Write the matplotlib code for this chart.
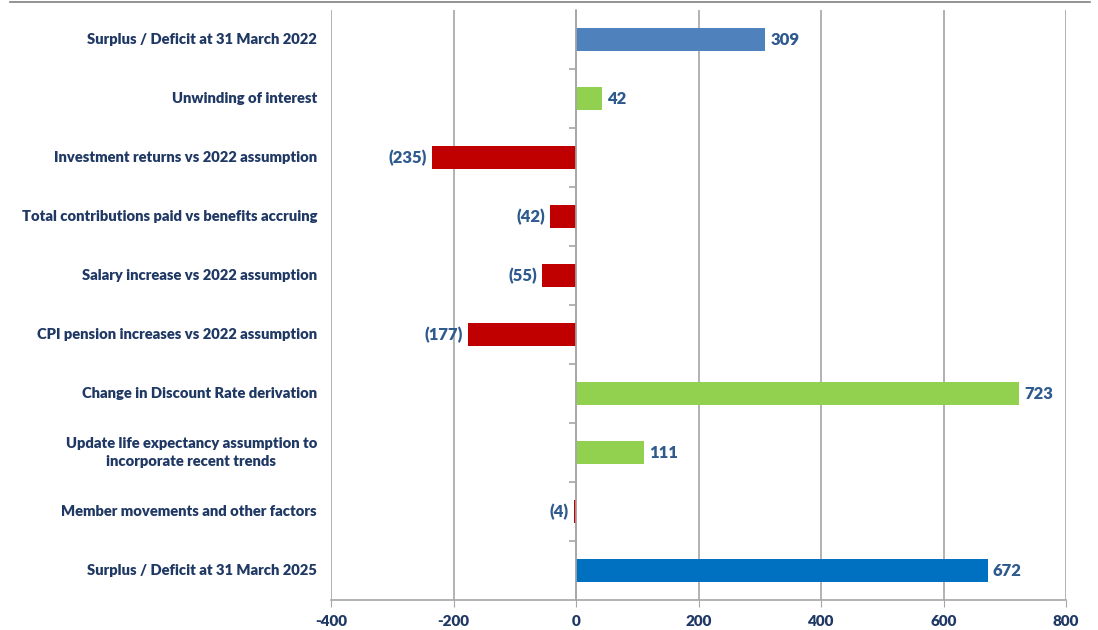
import matplotlib.pyplot as plt
from matplotlib.lines import Line2D

categories = [
    "Surplus / Deficit at 31 March 2022",
    "Unwinding of interest",
    "Investment returns vs 2022 assumption",
    "Total contributions paid vs benefits accruing",
    "Salary increase vs 2022 assumption",
    "CPI pension increases vs 2022 assumption",
    "Change in Discount Rate derivation",
    "Update life expectancy assumption to\nincorporate recent trends",
    "Member movements and other factors",
    "Surplus / Deficit at 31 March 2025",
]
values = [309, 42, -235, -42, -55, -177, 723, 111, -4, 672]
bar_colors = ["#4F81BD", "#92D050", "#C00000", "#C00000", "#C00000",
              "#C00000", "#92D050", "#92D050", "#C00000", "#0070C0"]
xticks = [-400, -200, 0, 200, 400, 600, 800]

label_col = "#1F3864"
value_col = "#2E5A8E"
grid_col = "#A6A6A6"
font = ["Lato", "DejaVu Sans"]

fig = plt.figure(figsize=(10.98, 6.3), dpi=100)
ax = fig.add_axes([0.3015, 0.0476, 0.6695, 0.9365])

ypos = list(range(len(categories)))
ax.barh(ypos, values, height=0.38, color=bar_colors, zorder=3)

ax.set_xlim(-400, 800)
ax.set_ylim(len(categories) - 0.5, -0.5)
ax.set_xticks(xticks)
ax.set_xticklabels([str(t) for t in xticks], fontfamily=font, fontweight="heavy",
                   fontsize=11, color=label_col)
ax.tick_params(axis="x", length=5, color=grid_col, pad=6)
ax.grid(axis="x", color=grid_col, linewidth=1.2, zorder=0)

# vertical axis sits at zero, tick marks between categories
for s in ["top", "right"]:
    ax.spines[s].set_visible(False)
ax.spines["left"].set_position(("data", 0))
ax.spines["left"].set_color(grid_col)
ax.spines["left"].set_linewidth(1.2)
ax.spines["left"].set_zorder(4)
ax.spines["bottom"].set_color(grid_col)
ax.spines["bottom"].set_linewidth(1.2)
ax.set_yticks([])
ax.set_yticks([y + 0.5 for y in ypos[:-1]], minor=True)
ax.tick_params(axis="y", which="minor", length=5, color=grid_col, width=1.2)

# category labels at the left of the plot area
trans = ax.get_yaxis_transform()
for y, name in zip(ypos, categories):
    ax.text(-0.019, y, name, transform=trans, ha="right", va="center",
            multialignment="center", linespacing=1.45, fontfamily=font,
            fontweight="heavy", fontsize=10.6, color=label_col)

# value labels
for y, v in zip(ypos, values):
    if v >= 0:
        ax.text(v + 8, y, f"{v}", ha="left", va="center", fontfamily=font,
                fontweight="heavy", fontsize=12, color=value_col, zorder=5)
    else:
        ax.text(v - 8, y, f"({-v})", ha="right", va="center", fontfamily=font,
                fontweight="heavy", fontsize=12, color=value_col, zorder=5)

# thin rule along the top of the image
fig.add_artist(Line2D([0.009, 0.993], [0.997, 0.997], transform=fig.transFigure,
                      color="#808080", linewidth=1.2))

fig.savefig("out.png", dpi=100)
